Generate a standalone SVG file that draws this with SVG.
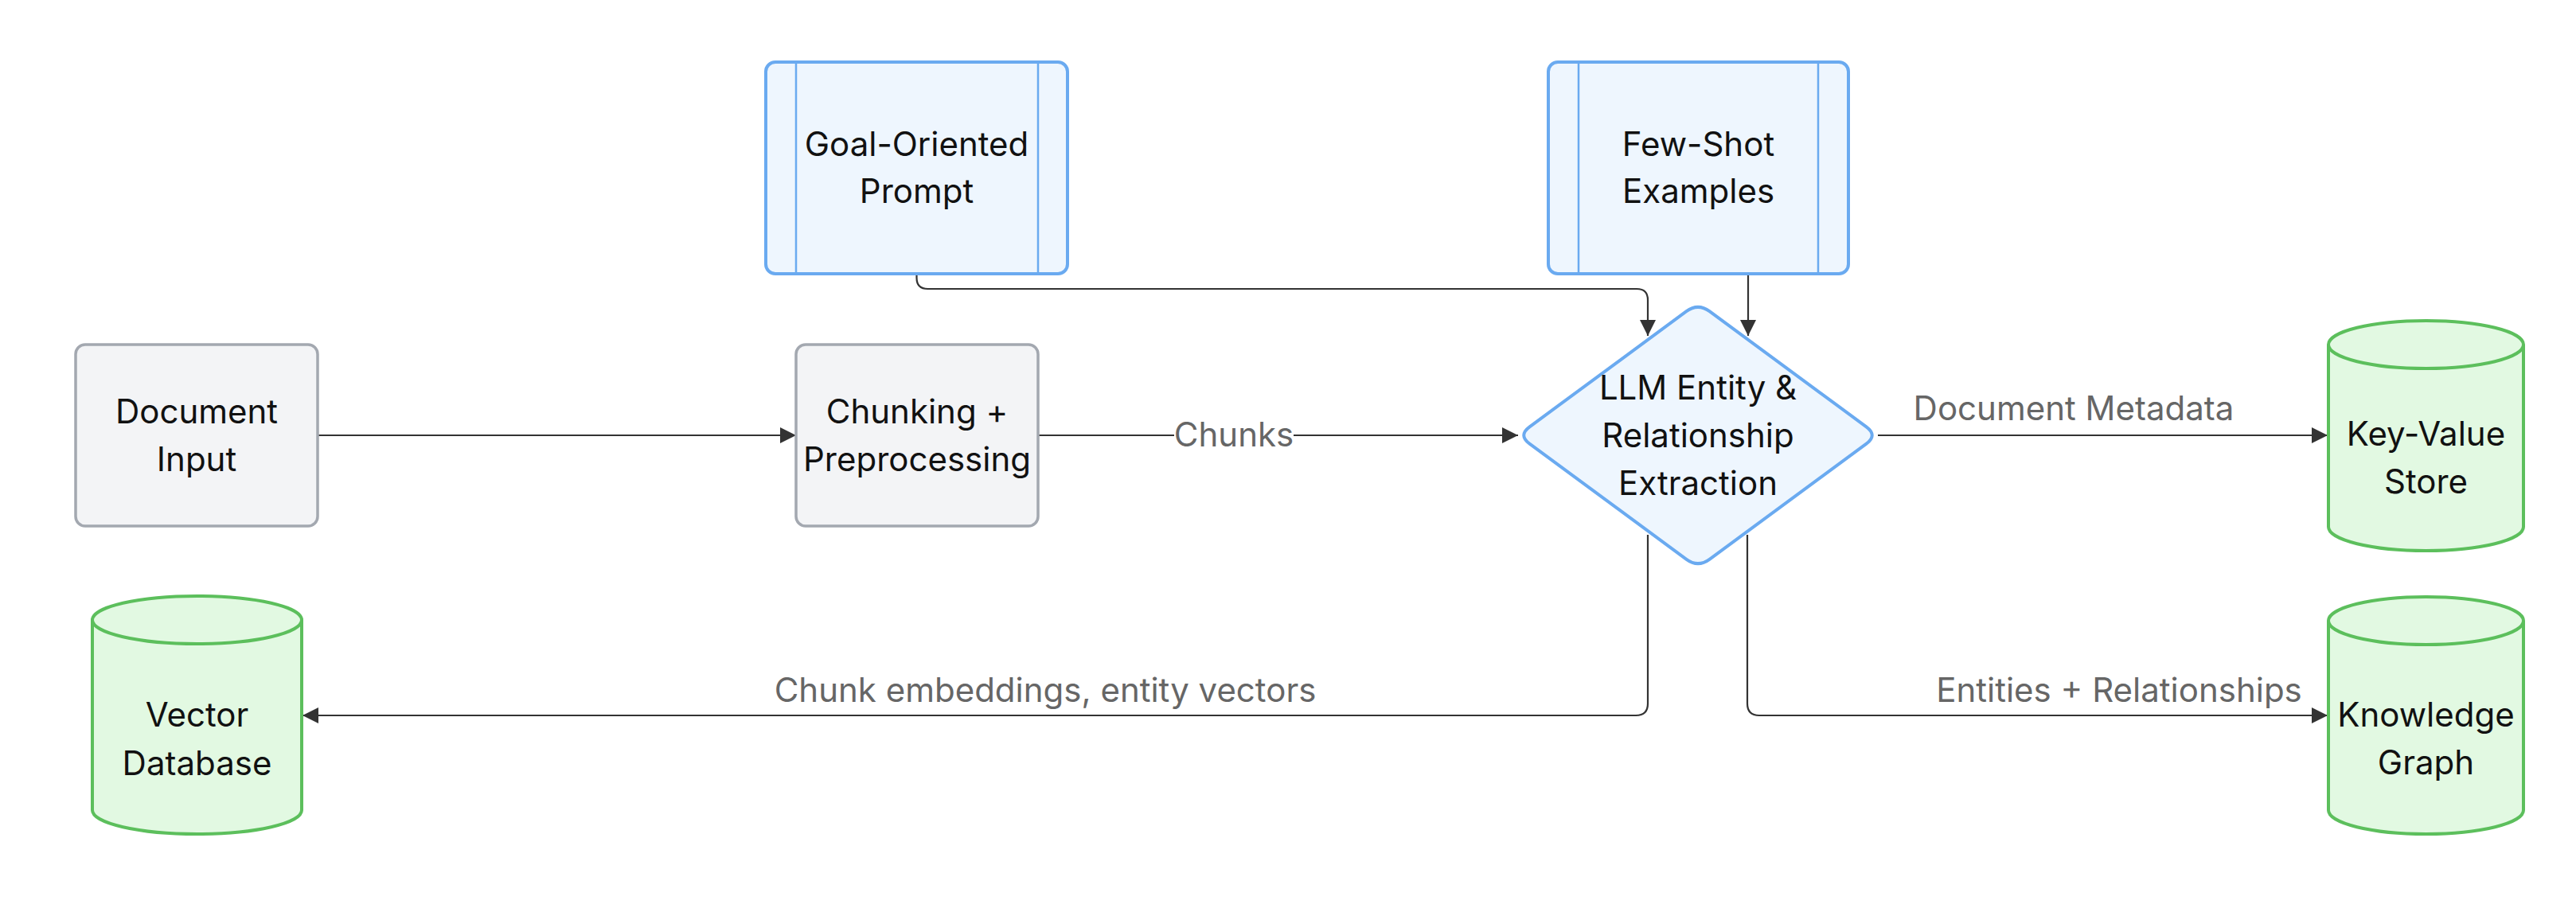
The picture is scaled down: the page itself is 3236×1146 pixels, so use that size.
<svg xmlns="http://www.w3.org/2000/svg" width="3236" height="1146" viewBox="0 0 3236 1146">
<defs>
<style>
.gray{fill:#f3f4f6;stroke:#a3a8b0;stroke-width:3.5}
.blue{fill:#eef6fe;stroke:#6aaaf0;stroke-width:4}
.blueline{stroke:#6aaaf0;stroke-width:2.5;fill:none}
.green{fill:#e2f9e2;stroke:#5cbf5c;stroke-width:4}
.t{font-family:Inter,"Noto Sans","Liberation Sans",sans-serif;font-size:42px;fill:#111;text-anchor:middle}
.lbl{font-family:Inter,"Noto Sans","Liberation Sans",sans-serif;font-size:42px;fill:#666;text-anchor:middle}
.edge{fill:none;stroke:#333;stroke-width:2.2}
</style>
<marker id="arr" viewBox="0 0 10 10" refX="10" refY="5" markerUnits="userSpaceOnUse" markerWidth="30" markerHeight="20" orient="auto">
<path d="M0,0 L10,5 L0,10 z" fill="#333"/>
</marker>
</defs>
<rect width="3236" height="1146" fill="#ffffff"/>

<g id="connectors">
<path class="edge" d="M399,547 L1000,547" marker-end="url(#arr)"/>
<path class="edge" d="M1304,547 L1907,547" marker-end="url(#arr)"/>
<path class="edge" d="M1151.5,345 L1151.5,349 Q1151.5,363 1165.5,363 L2056,363 Q2070,363 2070,377 L2070,422" marker-end="url(#arr)"/>
<path class="edge" d="M2196,345 L2196,422" marker-end="url(#arr)"/>
<path class="edge" d="M2359,547 L2924,547" marker-end="url(#arr)"/>
<path class="edge" d="M2070,672 L2070,884 Q2070,899 2055,899 L380,899" marker-end="url(#arr)"/>
<path class="edge" d="M2195,672 L2195,884 Q2195,899 2210,899 L2924,899" marker-end="url(#arr)"/>
<rect x="1475" y="522" width="150" height="50" fill="#ffffff"/>
<text class="lbl" x="1550" y="561">Chunks</text>
<text class="lbl" x="2605" y="528">Document Metadata</text>
<text class="lbl" x="1313" y="882">Chunk embeddings, entity vectors</text>
<text class="lbl" x="2662" y="882">Entities + Relationships</text>
</g>

<g id="doc-input">
<rect class="gray" x="95" y="433" width="304" height="228" rx="12"/>
<text class="t" x="247" y="532">Document</text>
<text class="t" x="247" y="592">Input</text>
</g>

<g id="chunking">
<rect class="gray" x="1000" y="433" width="304" height="228" rx="12"/>
<text class="t" x="1152" y="532">Chunking +</text>
<text class="t" x="1152" y="592">Preprocessing</text>
</g>

<g id="goal-prompt">
<rect class="blue" x="962" y="78" width="379" height="266" rx="12"/>
<line class="blueline" x1="1000" y1="78" x2="1000" y2="344"/>
<line class="blueline" x1="1304" y1="78" x2="1304" y2="344"/>
<text class="t" x="1151.5" y="196">Goal-Oriented</text>
<text class="t" x="1151.5" y="255">Prompt</text>
</g>

<g id="few-shot">
<rect class="blue" x="1945" y="78" width="377" height="266" rx="12"/>
<line class="blueline" x1="1983" y1="78" x2="1983" y2="344"/>
<line class="blueline" x1="2284" y1="78" x2="2284" y2="344"/>
<text class="t" x="2133.5" y="196">Few-Shot</text>
<text class="t" x="2133.5" y="255">Examples</text>
</g>

<g id="llm-extraction">
<path class="blue" d="M2147.5,391.2 L2344.5,536.3 Q2359,547 2344.5,557.7 L2147.5,702.8 Q2133,713.5 2118.5,702.8 L1921.5,557.7 Q1907,547 1921.5,536.3 L2118.5,391.2 Q2133,380.5 2147.5,391.2 Z"/>
<text class="t" x="2133" y="502">LLM Entity &amp;</text>
<text class="t" x="2133" y="562">Relationship</text>
<text class="t" x="2133" y="622">Extraction</text>
</g>

<g id="kv-store">
<path class="green" d="M2925,433 a122.5,30 0 0 0 245,0 a122.5,30 0 0 0 -245,0 l0,229 a122.5,30 0 0 0 245,0 l0,-229"/>
<text class="t" x="3047.5" y="560">Key-Value</text>
<text class="t" x="3047.5" y="620">Store</text>
</g>

<g id="knowledge-graph">
<path class="green" d="M2925,780 a122.5,30 0 0 0 245,0 a122.5,30 0 0 0 -245,0 l0,238 a122.5,30 0 0 0 245,0 l0,-238"/>
<text class="t" x="3047.5" y="913">Knowledge</text>
<text class="t" x="3047.5" y="973">Graph</text>
</g>

<g id="vector-db">
<path class="green" d="M116,779 a131.5,30 0 0 0 263,0 a131.5,30 0 0 0 -263,0 l0,239 a131.5,30 0 0 0 263,0 l0,-239"/>
<text class="t" x="247.5" y="913">Vector</text>
<text class="t" x="247.5" y="974">Database</text>
</g>
</svg>
